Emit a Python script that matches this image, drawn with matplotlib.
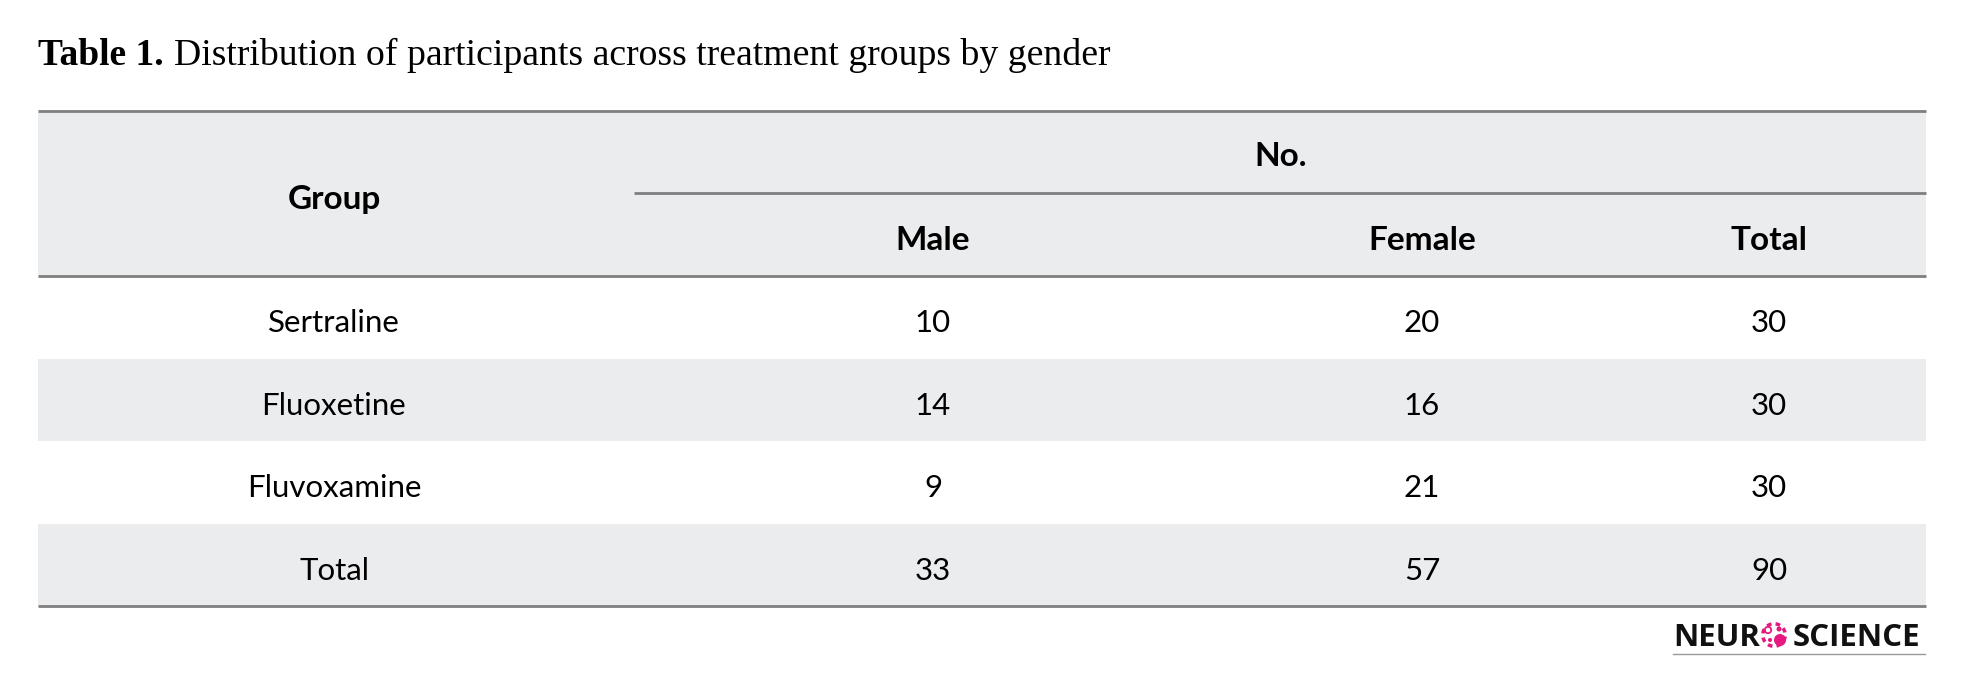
import matplotlib.pyplot as plt
from matplotlib.patches import Rectangle, Circle, Wedge

# table content
title_bold = "Table 1."
title_rest = "Distribution of participants across treatment groups by gender"
col_header = ["Male", "Female", "Total"]
groups = ["Sertraline", "Fluoxetine", "Fluvoxamine", "Total"]
male = [10, 14, 9, 33]
female = [20, 16, 21, 57]
total = [30, 30, 30, 90]

W, H = 1963, 680
fig = plt.figure(figsize=(W / 100, H / 100), dpi=100)
ax = fig.add_axes([0, 0, 1, 1])
ax.set_xlim(0, W)
ax.set_ylim(H, 0)
ax.axis("off")

band = "#EBECEE"
line_c = "#7F7F7F"
x0, x1 = 38, 1926
sans = "Lato"
fs = 22.5
fs_head = 24

# title
t = ax.text(x0, 65, title_bold, fontsize=27, fontweight="bold",
            family="Liberation Serif", va="baseline", ha="left")
fig.canvas.draw()
bb = t.get_window_extent()
ax.text(bb.x1 + 10, 65, title_rest, fontsize=27.2, family="Liberation Serif",
        va="baseline", ha="left")

# header band and striped rows
y_top, y_mid, y_head = 111, 193, 276
row_h = 82.5
ax.add_patch(Rectangle((x0, y_top), x1 - x0, y_head - y_top, color=band, lw=0))
for i in range(len(groups)):
    if i % 2 == 1:
        ax.add_patch(Rectangle((x0, y_head + i * row_h), x1 - x0, row_h,
                               color=band, lw=0))
y_bot = y_head + len(groups) * row_h

for xa, ya in [(x0, y_top), (634, y_mid), (x0, y_head), (x0, y_bot)]:
    ax.plot([xa, x1], [ya, ya], color=line_c, lw=2.0, solid_capstyle="butt")

col_x = [334, 933, 1422, 1769]
ax.text(col_x[0], 199, "Group", fontsize=fs_head, fontweight="bold", family=sans,
        ha="center", va="center")
ax.text(1281, 157, "No.", fontsize=fs_head, fontweight="bold", family=sans,
        ha="center", va="center")
for cx, lab in zip(col_x[1:], col_header):
    ax.text(cx, 240, lab, fontsize=fs_head, fontweight="bold", family=sans,
            ha="center", va="center")

for i, g in enumerate(groups):
    yc = y_head + (i + 0.5) * row_h + 6
    for cx, v in zip(col_x, [g, male[i], female[i], total[i]]):
        ax.text(cx, yc, str(v), fontsize=fs, family=sans, ha="center", va="center")

# logo
ax.text(1673, 646, "NEUR", fontsize=22.5, fontweight="bold", family="Open Sans",
        ha="left", va="baseline", color="#111111")
ax.text(1920, 646, "SCIENCE", fontsize=22.5, fontweight="bold", family="Open Sans",
        ha="right", va="baseline", color="#111111")
pink = "#E5197F"
cx, cy = 1774, 635
for a in range(0, 360, 45):
    ax.add_patch(Wedge((cx, cy), 13, a + 8, a + 32, width=3.5, color=pink, lw=0))
ax.add_patch(Circle((cx - 6, cy - 5), 3.2, fill=False, ec=pink, lw=1.3))
ax.add_patch(Circle((cx + 6, cy + 5), 6, color=pink, lw=0))
ax.add_patch(Circle((cx + 5, cy - 6), 2.5, color=pink, lw=0))
ax.add_patch(Circle((cx - 4, cy + 5), 2, color=pink, lw=0))
ax.plot([1673, 1925], [654, 654], color="#999999", lw=1.0)

fig.savefig("out.png", dpi=100)
